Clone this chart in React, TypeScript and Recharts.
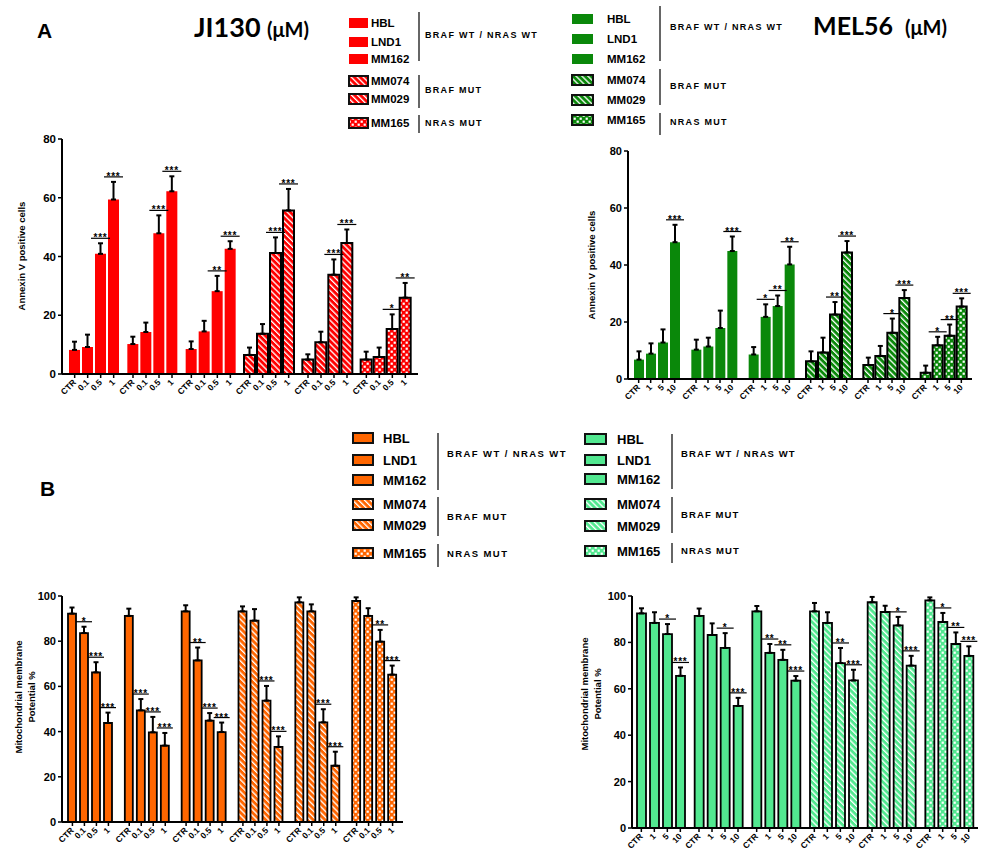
import React from 'react'
import { Bar, BarChart, Cell, ErrorBar, LabelList, XAxis, YAxis } from 'recharts'

// ---- data ----
const cellLines = ['HBL', 'LND1', 'MM162', 'MM074', 'MM029', 'MM165']
const genotype = ['WT', 'WT', 'WT', 'BRAF', 'BRAF', 'NRAS']
const genotypeLabels = ['BRAF WT / NRAS WT', 'BRAF MUT', 'NRAS MUT']
const ji130Doses = ['CTR', '0.1', '0.5', '1']
const mel56Doses = ['CTR', '1', '5', '10']

// A – Annexin V positive cells
const jiAnnexinMean = [
  [8.2, 9.2, 40.9, 59.4],
  [10.2, 14.3, 47.9, 62.2],
  [8.5, 14.5, 28.2, 42.6],
  [6.5, 13.7, 41.2, 55.7],
  [4.9, 10.8, 33.8, 44.6],
  [4.9, 5.8, 15.3, 26.0],
]
const jiAnnexinErr = [
  [2.8, 4.2, 3.6, 6.0],
  [2.5, 3.2, 6.1, 5.1],
  [2.6, 3.6, 5.2, 2.6],
  [2.5, 3.3, 5.3, 7.3],
  [1.8, 3.6, 5.2, 4.6],
  [2.7, 3.2, 5.0, 5.0],
]
const jiAnnexinSig = [
  ['', '', '***', '***'],
  ['', '', '***', '***'],
  ['', '', '**', '***'],
  ['', '', '***', '***'],
  ['', '', '***', '***'],
  ['', '', '*', '**'],
]

const melAnnexinMean = [
  [6.8, 8.9, 12.8, 48.0],
  [10.3, 11.4, 17.9, 44.9],
  [8.6, 21.8, 25.6, 40.2],
  [6.2, 9.3, 22.6, 44.4],
  [4.9, 8.1, 16.2, 28.4],
  [2.2, 11.8, 15.2, 25.4],
]
const melAnnexinErr = [
  [2.9, 3.6, 4.6, 6.1],
  [3.5, 3.1, 6.1, 5.1],
  [2.6, 4.4, 3.7, 6.2],
  [3.5, 5.2, 4.4, 4.0],
  [2.6, 3.5, 5.0, 2.8],
  [2.5, 3.0, 3.9, 2.9],
]
const melAnnexinSig = [
  ['', '', '', '***'],
  ['', '', '', '***'],
  ['', '*', '**', '**'],
  ['', '', '**', '***'],
  ['', '', '*', '***'],
  ['', '*', '**', '***'],
]

// B – mitochondrial membrane potential %
const jiMmpMean = [
  [92.2, 83.6, 66.2, 43.8],
  [91.2, 49.4, 39.7, 33.8],
  [93.2, 71.5, 44.9, 39.8],
  [93.2, 89.1, 53.7, 33.2],
  [97.2, 93.2, 44.1, 24.9],
  [97.8, 91.2, 79.8, 65.2],
]
const jiMmpErr = [
  [2.7, 2.8, 4.5, 4.6],
  [3.2, 5.0, 6.8, 5.6],
  [2.7, 5.7, 3.3, 4.2],
  [2.2, 5.1, 6.5, 4.7],
  [2.2, 3.1, 5.8, 6.2],
  [1.6, 3.4, 5.2, 4.0],
]
const jiMmpSig = [
  ['', '*', '***', '***'],
  ['', '***', '***', '***'],
  ['', '**', '***', '***'],
  ['', '', '***', '***'],
  ['', '', '***', '***'],
  ['', '', '**', '***'],
]

const melMmpMean = [
  [92.5, 88.4, 83.6, 65.6],
  [91.4, 83.2, 77.6, 52.6],
  [93.4, 75.5, 72.5, 63.5],
  [93.4, 88.4, 71.1, 63.6],
  [97.3, 93.1, 87.3, 70.0],
  [98.1, 88.8, 79.3, 74.2],
]
const melMmpErr = [
  [2.2, 4.6, 4.3, 3.6],
  [3.2, 5.0, 6.4, 3.5],
  [2.3, 3.8, 4.3, 2.0],
  [3.6, 4.6, 6.5, 4.6],
  [2.3, 2.7, 3.7, 4.2],
  [1.3, 3.9, 5.0, 4.1],
]
const melMmpSig = [
  ['', '', '*', '***'],
  ['', '', '*', '***'],
  ['', '**', '**', '***'],
  ['', '', '**', '***'],
  ['', '', '*', '***'],
  ['', '*', '**', '***'],
]

// ---- styling ----
const FONT = '"Liberation Sans", Arial, sans-serif'
const TITLE_FONT = 'Lato, "Open Sans", sans-serif'
const COLORS: Record<string, string> = {
  red: '#FF0000',
  green: '#0A880A',
  orange: '#FF6600',
  mint: '#52E890',
}

const fillFor = (key: string, g: number) => {
  if (genotype[g] === 'BRAF') return `url(#stripe-${key})`
  if (genotype[g] === 'NRAS') return `url(#check-${key})`
  return COLORS[key]
}

function Patterns() {
  return (
    <defs>
      {Object.entries(COLORS).map(([k, c]) => (
        <React.Fragment key={k}>
          <pattern id={`stripe-${k}`} patternUnits="userSpaceOnUse" width="4.2" height="4.2" patternTransform="rotate(-45)">
            <rect width="4.2" height="4.2" fill={c} />
            <rect width="1.3" height="4.2" fill="#fff" />
          </pattern>
          <pattern id={`check-${k}`} patternUnits="userSpaceOnUse" width="6" height="6">
            <rect width="6" height="6" fill={c} />
            <rect x="0.6" y="0.6" width="2.2" height="2.2" fill="#fff" />
            <rect x="3.6" y="3.6" width="2.2" height="2.2" fill="#fff" />
          </pattern>
        </React.Fragment>
      ))}
    </defs>
  )
}

function DoseTick(props: any) {
  const { x, y, doses, step } = props
  return (
    <g>
      {doses.map((d: string, i: number) => {
        const cx = x + (i - (doses.length - 1) / 2) * step
        return (
          <g key={d}>
            <line x1={cx} x2={cx} y1={y} y2={y + 4} stroke="#000" strokeWidth={1.5} />
            <text
              x={cx + 2}
              y={y + 9}
              textAnchor="end"
              transform={`rotate(-45 ${cx + 2} ${y + 9})`}
              fontFamily={FONT}
              fontWeight="bold"
              fontSize={8.5}
              fill="#000"
            >
              {d}
            </text>
          </g>
        )
      })}
    </g>
  )
}

function Panel(p: any) {
  const data = cellLines.map((line, g) => {
    const row: any = { line }
    p.doses.forEach((_: string, i: number) => {
      row[`m${i}`] = p.means[g][i]
      row[`e${i}`] = [0, p.errs[g][i]]
      row[`s${i}`] = p.sigs[g][i]
    })
    return row
  })

  const sigMark = (dose: number) => (lp: any) => {
    const { value, index } = lp
    if (!value) return null
    const vb = lp.viewBox ?? lp
    const h = Math.abs(vb.height)
    const top = Math.min(vb.y, vb.y + vb.height)
    const errTop = top - p.errs[index][dose] * (h / p.means[index][dose])
    const ly = errTop - 5
    const cx = vb.x + vb.width / 2
    return (
      <g key={`sig-${dose}-${index}`}>
        <line x1={vb.x - 4} x2={vb.x + vb.width + 4} y1={ly} y2={ly} stroke="#000" strokeWidth={1.2} />
        <text x={cx} y={ly + 3} textAnchor="middle" fontFamily={FONT} fontWeight="bold" fontSize={10} letterSpacing={0.8} fill="#000">
          {value}
        </text>
      </g>
    )
  }

  return (
    <div style={{ position: 'absolute', left: p.left, top: p.top }}>
      <BarChart width={p.width} height={p.height} data={data} margin={p.margin} barGap={p.barGap} barCategoryGap={0}>
        <XAxis
          dataKey="line"
          interval={0}
          padding={{ left: p.pad, right: p.pad }}
          axisLine={{ stroke: '#000', strokeWidth: 2 }}
          tickLine={false}
          tickSize={0}
          tickMargin={0}
          height={p.xHeight}
          tick={<DoseTick doses={p.doses} step={p.barSize + p.barGap} />}
        />
        <YAxis
          domain={[0, p.yMax]}
          ticks={p.yTicks}
          interval={0}
          width={p.yWidth}
          axisLine={{ stroke: '#000', strokeWidth: 2 }}
          tickLine={{ stroke: '#000', strokeWidth: 1.5 }}
          tickSize={4}
          tickMargin={2}
          tick={{ fill: '#000', fontSize: p.yFont, fontWeight: 'bold', fontFamily: FONT }}
        />
        {p.doses.map((d: string, i: number) => (
          <Bar key={d} dataKey={`m${i}`} barSize={p.barSize} isAnimationActive={false}>
            {data.map((_r, g) => {
              const outlined = p.outlineSolid || genotype[g] !== 'WT'
              return (
                <Cell
                  key={g}
                  fill={fillFor(p.colorKey, g)}
                  stroke={outlined ? '#000' : 'none'}
                  strokeWidth={outlined ? p.strokeW : 0}
                />
              )
            })}
            <ErrorBar dataKey={`e${i}`} width={2.5} stroke="#000" strokeWidth={2} isAnimationActive={false} />
            <LabelList dataKey={`s${i}`} content={sigMark(i)} />
          </Bar>
        ))}
      </BarChart>
    </div>
  )
}

function Legend(l: any) {
  return (
    <g fontFamily={FONT} fontWeight="bold" fill="#000">
      {cellLines.map((name, g) => {
        const outlined = l.outlineSolid || genotype[g] !== 'WT'
        return (
          <g key={name}>
            <rect
              x={l.swatchX}
              y={l.rowY[g] - 5}
              width={l.swatchW}
              height={10}
              fill={fillFor(l.colorKey, g)}
              stroke={outlined ? '#111' : 'none'}
              strokeWidth={outlined ? 2 : 0}
            />
            <text x={l.textX} y={l.rowY[g]} dominantBaseline="central" fontSize={l.fontSize}>
              {name}
            </text>
          </g>
        )
      })}
      {genotypeLabels.map((label, k) => (
        <g key={label}>
          <line x1={l.lineX} x2={l.lineX} y1={l.spans[k][0]} y2={l.spans[k][1]} stroke="#333" strokeWidth={1.5} />
          <text x={l.groupX} y={l.groupY[k]} dominantBaseline="central" fontSize={l.groupFont} letterSpacing={l.groupSpacing}>
            {label}
          </text>
        </g>
      ))}
    </g>
  )
}

const PANELS = [
  {
    colorKey: 'red', left: 0, top: 110, width: 430, height: 300,
    margin: { top: 29, right: 12, bottom: 6, left: 0 }, yWidth: 62, xHeight: 30,
    yMax: 80, yTicks: [0, 20, 40, 60, 80], yFont: 11.5, barSize: 11, barGap: 2, pad: 3,
    outlineSolid: false, strokeW: 2, doses: ji130Doses, means: jiAnnexinMean, errs: jiAnnexinErr, sigs: jiAnnexinSig,
  },
  {
    colorKey: 'green', left: 560, top: 120, width: 420, height: 300,
    margin: { top: 31, right: 8, bottom: 6, left: 0 }, yWidth: 68, xHeight: 35,
    yMax: 80, yTicks: [0, 20, 40, 60, 80], yFont: 11, barSize: 10, barGap: 2, pad: 0,
    outlineSolid: false, strokeW: 2, doses: mel56Doses, means: melAnnexinMean, errs: melAnnexinErr, sigs: melAnnexinSig,
  },
  {
    colorKey: 'orange', left: 0, top: 570, width: 420, height: 281,
    margin: { top: 26, right: 17, bottom: 4, left: 0 }, yWidth: 62, xHeight: 25,
    yMax: 100, yTicks: [0, 20, 40, 60, 80, 100], yFont: 11, barSize: 8, barGap: 4, pad: 0,
    outlineSolid: true, strokeW: 1.8, doses: ji130Doses, means: jiMmpMean, errs: jiMmpErr, sigs: jiMmpSig,
  },
  {
    colorKey: 'mint', left: 560, top: 570, width: 421, height: 281,
    margin: { top: 26, right: 3, bottom: 3, left: 0 }, yWidth: 72, xHeight: 20,
    yMax: 100, yTicks: [0, 20, 40, 60, 80, 100], yFont: 11, barSize: 9, barGap: 4, pad: 0,
    outlineSolid: true, strokeW: 1.8, doses: mel56Doses, means: melMmpMean, errs: melMmpErr, sigs: melMmpSig,
  },
]

const LEGENDS = [
  { colorKey: 'red', outlineSolid: false, swatchX: 349, swatchW: 19, textX: 371, rowY: [23, 42, 59, 81, 99, 123], fontSize: 11.5, lineX: 419, spans: [[12, 61], [75, 108], [115, 133]], groupX: 425, groupY: [35, 90, 123], groupFont: 9, groupSpacing: 1.3 },
  { colorKey: 'green', outlineSolid: false, swatchX: 572, swatchW: 21, textX: 607, rowY: [19, 39, 59, 80, 100, 120], fontSize: 11.5, lineX: 660, spans: [[6, 61], [69, 105], [113, 135]], groupX: 670, groupY: [27, 86, 122], groupFont: 9, groupSpacing: 1.3 },
  { colorKey: 'orange', outlineSolid: true, swatchX: 353, swatchW: 20, textX: 383, rowY: [438, 460, 480, 504, 525, 553], fontSize: 13, lineX: 438, spans: [[433, 490], [497, 536], [544, 567]], groupX: 447, groupY: [453, 516, 553], groupFont: 9.5, groupSpacing: 1.4 },
  { colorKey: 'mint', outlineSolid: true, swatchX: 585, swatchW: 21, textX: 617, rowY: [439, 460, 479, 504, 526, 551], fontSize: 13, lineX: 672, spans: [[434, 489], [497, 533], [543, 563]], groupX: 681, groupY: [453, 514, 550], groupFont: 9.5, groupSpacing: 1.1 },
]

function AxisTitle({ x, y, lines }: { x: number; y: number; lines: string[] }) {
  return (
    <text transform={`translate(${x} ${y}) rotate(-90)`} textAnchor="middle" fontFamily={FONT} fontWeight="bold" fontSize={9.5} fill="#000">
      {lines.map((t, i) => (
        <tspan key={t} x={0} dy={i === 0 ? 0 : 13}>
          {t}
        </tspan>
      ))}
    </text>
  )
}

export default function App() {
  return (
    <div style={{ position: 'absolute', left: 0, top: 0, width: 981, height: 851, background: '#fff', overflow: 'hidden' }}>
      <svg width={981} height={851} style={{ position: 'absolute', left: 0, top: 0 }}>
        <Patterns />
        <text x={37} y={38} fontFamily={FONT} fontWeight="bold" fontSize={21}>A</text>
        <text x={40} y={496} fontFamily={FONT} fontWeight="bold" fontSize={21}>B</text>
        <text x={194} y={37} fontFamily={TITLE_FONT} fontWeight="bold" fontSize={27}>JI130</text>
        <text x={267} y={37} fontFamily={TITLE_FONT} fontWeight="bold" fontSize={20}>(μM)</text>
        <text x={813} y={35} fontFamily={TITLE_FONT} fontWeight="bold" fontSize={25}>MEL56</text>
        <text x={905} y={35} fontFamily={TITLE_FONT} fontWeight="bold" fontSize={20}>(μM)</text>
        {LEGENDS.map((l) => (
          <Legend key={l.colorKey} {...l} />
        ))}
        <AxisTitle x={25} y={256} lines={['Annexin V positive cells']} />
        <AxisTitle x={595} y={265} lines={['Annexin V positive cells']} />
        <AxisTitle x={22} y={697} lines={['Mitochondrial membrane', 'Potential %']} />
        <AxisTitle x={588} y={694} lines={['Mitochondrial membrane', 'Potential %']} />
      </svg>
      {PANELS.map((p) => (
        <Panel key={p.colorKey} {...p} />
      ))}
    </div>
  )
}
